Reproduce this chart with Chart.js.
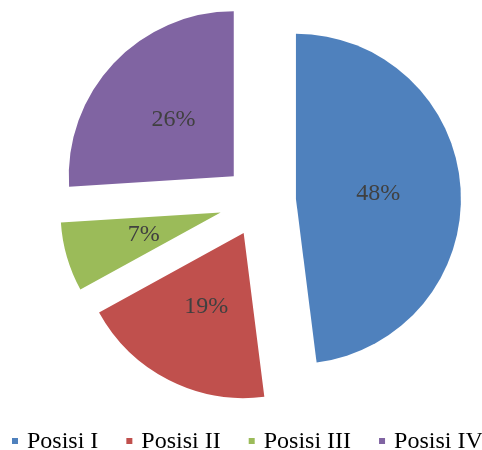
<!DOCTYPE html>
<html>
<head>
<meta charset="utf-8">
<script src="https://cdn.jsdelivr.net/npm/chart.js@4"></script>
<style>
  html, body { margin: 0; padding: 0; background: #fff; }
  #wrap { width: 482px; height: 450px; }
</style>
</head>
<body>
<div id="wrap"><canvas id="chart" width="482" height="450"></canvas></div>
<script>
// data
const categories = ['Posisi I', 'Posisi II', 'Posisi III', 'Posisi IV'];
const shares = [48, 19, 7, 26];
const sliceColors = ['#4F81BD', '#C0504D', '#9BBB59', '#8064A2'];
// how far each slice is pulled out of the pie (px), and its size relative to the others
const explode = [36, 36, 41, 36];
const sliceScale = [1, 1, 0.97, 1];

function midAngle(arc) {
  const p = arc.getProps(['startAngle', 'endAngle']);
  return (p.startAngle + p.endAngle) / 2;
}

// chart.js' own "offset" also grows the radius of wide slices,
// so pull the slices out by hand: plain shift along the middle angle
const explodeSlices = {
  id: 'explodeSlices',
  beforeDatasetDraw(chart, args) {
    const ctx = chart.ctx;
    args.meta.data.forEach((arc, i) => {
      const mid = midAngle(arc);
      const ax = arc.x + Math.cos(mid) * explode[i];
      const ay = arc.y + Math.sin(mid) * explode[i];
      ctx.save();
      ctx.translate(ax, ay);
      ctx.scale(sliceScale[i], sliceScale[i]);
      ctx.translate(-arc.x, -arc.y);
      arc.draw(ctx, chart.chartArea);
      ctx.restore();
    });
    return false;
  }
};

// percentage labels inside the slices
const sliceLabels = {
  id: 'sliceLabels',
  afterDatasetsDraw(chart) {
    const ctx = chart.ctx;
    const meta = chart.getDatasetMeta(0);
    ctx.save();
    ctx.font = '24px "Liberation Serif", serif';
    ctx.fillStyle = '#404040';
    ctx.textAlign = 'center';
    ctx.textBaseline = 'middle';
    meta.data.forEach((arc, i) => {
      const mid = midAngle(arc);
      const dist = explode[i] + arc.outerRadius * sliceScale[i] / 2;
      ctx.fillText(shares[i] + '%', arc.x + Math.cos(mid) * dist, arc.y + Math.sin(mid) * dist);
    });
    ctx.restore();
  }
};

// legend row at the bottom (the built-in one wraps at this spacing)
const bottomLegend = {
  id: 'bottomLegend',
  afterDraw(chart) {
    const ctx = chart.ctx;
    ctx.save();
    ctx.font = '24px "Liberation Serif", serif';
    ctx.textBaseline = 'alphabetic';
    let x = 12;
    categories.forEach((name, i) => {
      ctx.fillStyle = sliceColors[i];
      ctx.fillRect(x, 438, 6, 6);
      ctx.fillStyle = '#000';
      ctx.fillText(name, x + 15, 448);
      x += 15 + ctx.measureText(name).width + 28;
    });
    ctx.restore();
  }
};

new Chart(document.getElementById('chart'), {
  type: 'pie',
  data: {
    labels: categories,
    datasets: [{
      data: shares,
      backgroundColor: sliceColors,
      borderWidth: 0
    }]
  },
  options: {
    responsive: false,
    animation: false,
    radius: 165,
    layout: { padding: { left: 38, right: 0, top: 0, bottom: 48 } },
    plugins: {
      legend: { display: false },
      tooltip: { enabled: false }
    }
  },
  plugins: [explodeSlices, sliceLabels, bottomLegend]
});
</script>
</body>
</html>
